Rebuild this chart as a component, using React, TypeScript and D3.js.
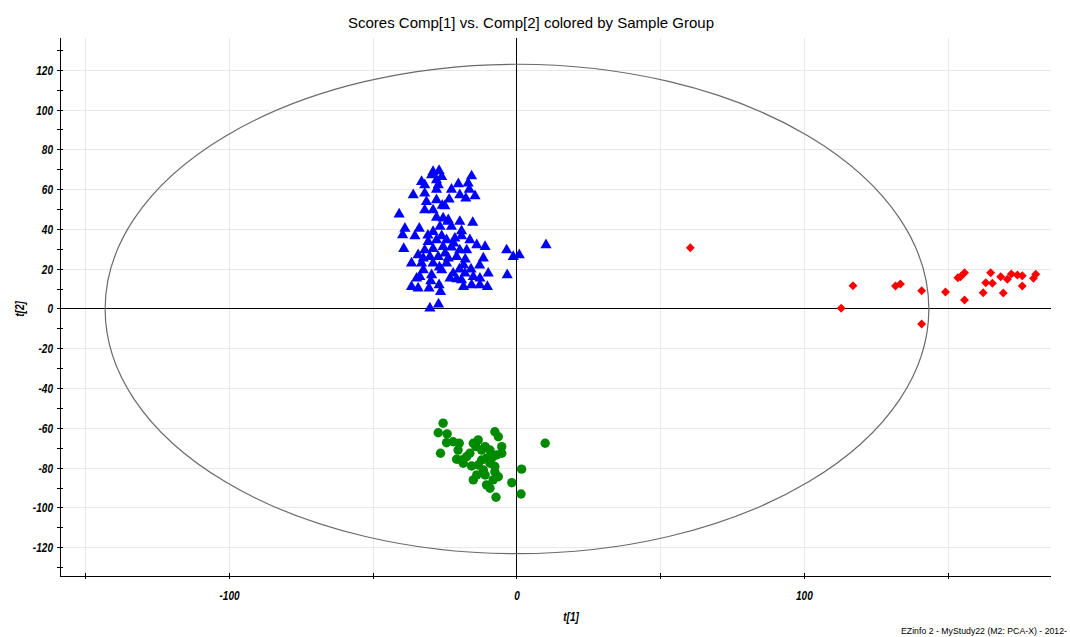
import React from 'react';
import * as d3 from 'd3';

// t[1], t[2] scores
const blueGroup: [number, number][] = [
  [-29.2, 69.0], [-27.1, 69.5], [-29.7, 67.3], [-26.2, 66.5], [-28.0, 64.8], [-33.2, 64.0],
  [-32.1, 62.3], [-27.4, 62.3], [-28.0, 60.1], [-20.4, 62.8], [-15.8, 66.8], [-17.0, 63.2],
  [-16.6, 60.1], [-36.1, 57.3], [-32.1, 58.1], [-22.8, 60.1], [-23.6, 55.1], [-19.9, 57.3],
  [-14.6, 56.8], [-17.8, 55.6], [-31.5, 53.9], [-28.0, 54.8], [-25.1, 51.8], [-32.1, 49.7],
  [-29.2, 49.7], [-41.0, 47.6], [-25.7, 45.6], [-23.9, 44.7], [-19.9, 43.9], [-15.4, 43.4],
  [-39.0, 40.5], [-39.8, 37.2], [-34.0, 40.5], [-35.5, 36.7], [-29.2, 38.8], [-26.8, 41.4],
  [-22.8, 41.4], [-19.3, 39.2], [-19.3, 36.7], [-26.2, 36.7], [-30.9, 33.8], [-28.0, 34.7],
  [-24.5, 34.7], [-21.6, 35.5], [-16.4, 34.7], [-14.0, 32.2], [-11.1, 31.3], [-39.4, 30.3],
  [-32.1, 29.6], [-29.2, 30.3], [-25.7, 31.3], [-22.8, 31.0], [-19.9, 29.6], [-17.5, 29.6],
  [-34.4, 27.1], [-36.7, 23.0], [-32.6, 25.5], [-30.3, 26.3], [-27.4, 26.3], [-23.9, 25.5],
  [-21.0, 26.3], [-33.2, 23.0], [-29.2, 23.0], [-24.5, 23.0], [-11.7, 25.5], [-18.6, 22.1],
  [-32.6, 19.6], [-26.2, 19.6], [-22.2, 17.9], [-18.1, 17.9], [-15.2, 16.2], [-12.9, 15.4],
  [-10.0, 17.9], [-34.9, 15.4], [-33.8, 16.2], [-29.7, 17.1], [-23.3, 15.4], [-19.3, 14.6],
  [-15.8, 12.1], [-36.7, 11.2], [-34.4, 10.4], [-30.6, 10.4], [-27.1, 12.1], [-26.6, 8.7],
  [-18.6, 11.2], [-12.9, 12.1], [-10.3, 11.2], [-3.6, 29.6], [-1.3, 26.3], [0.8, 27.1],
  [-3.4, 17.1], [10.1, 32.2], [-30.3, 0.4], [-27.3, 2.4], [-25.0, 28.0], [-22.0, 33.0],
  [-27.0, 21.0], [-20.0, 20.0], [-31.0, 37.0], [-24.0, 44.0], [-28.0, 46.0], [-18.0, 25.0],
  [-16.0, 20.0], [-30.0, 14.0], [-21.0, 15.0], [-26.0, 52.0], [-13.0, 22.0],
];

const greenGroup: [number, number][] = [
  [-25.7, -57.4], [-27.4, -62.2], [-24.3, -62.8], [-24.5, -67.2], [-26.6, -72.5], [-22.2, -66.7],
  [-20.1, -67.5], [-20.5, -70.9], [-21.0, -75.5], [-19.3, -75.9], [-15.2, -67.5], [-13.5, -65.8],
  [-14.3, -69.2], [-17.5, -74.2], [-16.4, -72.5], [-15.8, -78.9], [-11.1, -69.2], [-9.4, -70.9],
  [-7.7, -61.7], [-6.5, -64.2], [-5.3, -69.2], [-7.1, -73.4], [-10.6, -75.0], [-12.3, -75.9],
  [-13.5, -78.4], [-9.4, -77.5], [-7.7, -79.2], [-11.7, -80.9], [-14.0, -83.4], [-15.2, -85.9],
  [-7.7, -81.8], [-6.5, -84.3], [-10.6, -88.4], [-9.4, -90.1], [-7.3, -94.6], [-1.8, -87.3],
  [1.6, -80.5], [1.4, -93.0], [9.8, -67.5], [-18.7, -77.5], [-5.3, -72.5], [-8.8, -75.0],
  [-12.3, -70.9], [-11.1, -83.4], [-8.3, -85.9],
];

const redGroup: [number, number][] = [
  [60.3, 30.8], [116.9, 11.7], [112.8, 0.4], [131.7, 11.6], [133.4, 12.6], [140.8, 9.2],
  [140.8, -7.5], [149.1, 8.5], [153.4, 15.7], [155.7, 18.2], [154.3, 16.2], [155.7, 4.5],
  [162.2, 8.2], [163.1, 13.2], [164.8, 18.2], [165.4, 12.9], [168.3, 16.2], [169.2, 8.0],
  [170.6, 14.9], [172.0, 17.6], [174.1, 17.1], [175.8, 16.7], [175.8, 11.6], [179.7, 15.4],
  [180.5, 17.5],
];

const yTicks = d3.range(-130, 131, 10);
const yLabels = d3.range(-120, 121, 20);
const xTicks = [-150, -100, -50, 0, 50, 100, 150];
const xLabels = [-100, 0, 100];
const ellipseRadius = { t1: 143.3, t2: 123 };

const W = 1070;
const H = 637;
const plot = { left: 60, right: 1051, top: 38, bottom: 576 };

const labelFont = "'Liberation Sans', Arial, sans-serif";
const narrow = 0.84; // squeeze to look like a narrow face

export default function App() {
  const x = d3.scaleLinear().domain([-159, 185.8]).range([plot.left, plot.right]);
  const y = d3.scaleLinear().domain([-134.2, 136.2]).range([plot.bottom, plot.top]);

  const triangle = d3.symbol().type(d3.symbolTriangle).size(54)()!;
  const diamond = d3.symbol().type(d3.symbolSquare).size(40)()!;

  const label = (key: string, tx: number, ty: number, anchor: string, txt: string | number, rot = 0) => (
    <text key={key} transform={`translate(${tx},${ty}) rotate(${rot}) scale(${narrow},1)`} textAnchor={anchor}
      fontFamily={labelFont} fontWeight="bold" fontStyle="italic" fontSize={12} fill="#000">{txt}</text>
  );

  return (
    <svg width={W} height={H} style={{ position: 'absolute', left: 0, top: 0, background: '#fff' }}>
      <text x={531} y={28} textAnchor="middle" fontFamily="'Liberation Sans', Arial, sans-serif" fontSize={15} fill="#000">
        Scores Comp[1] vs. Comp[2] colored by Sample Group
      </text>

      <g shapeRendering="crispEdges">
        {/* grid */}
        {yLabels.filter(v => v !== 0).map(v => (
          <line key={'gy' + v} x1={plot.left} x2={plot.right} y1={y(v)} y2={y(v)} stroke="#e8e8e8" />
        ))}
        {xTicks.filter(v => v !== 0).map(v => (
          <line key={'gx' + v} x1={x(v)} x2={x(v)} y1={plot.top} y2={plot.bottom} stroke="#e8e8e8" />
        ))}

        {/* zero lines */}
        <line x1={plot.left} x2={plot.right} y1={y(0)} y2={y(0)} stroke="#000" />
        <line x1={x(0)} x2={x(0)} y1={plot.top} y2={plot.bottom} stroke="#000" />
      </g>

      {/* Hotelling ellipse */}
      <ellipse
        cx={x(0)} cy={y(0)}
        rx={x(ellipseRadius.t1) - x(0)} ry={y(0) - y(ellipseRadius.t2)}
        fill="none" stroke="#6a6a6a" strokeWidth={1.2}
      />

      {/* axes */}
      <g shapeRendering="crispEdges">
        <line x1={plot.left} x2={plot.left} y1={plot.top} y2={plot.bottom} stroke="#000" />
        <line x1={plot.left} x2={plot.right} y1={plot.bottom} y2={plot.bottom} stroke="#000" />
        {yTicks.map(v => (
          <line key={'ty' + v} x1={plot.left - 3} x2={plot.left + 3} y1={y(v)} y2={y(v)} stroke="#000" />
        ))}
        {xTicks.map(v => (
          <line key={'tx' + v} x1={x(v)} x2={x(v)} y1={plot.bottom - 3} y2={plot.bottom + 3} stroke="#000" />
        ))}
      </g>
      {yLabels.map(v => label('ly' + v, plot.left - 7, y(v) + 4.5, 'end', v))}
      {xLabels.map(v => label('lx' + v, x(v), 600, 'middle', v))}
      {label('t1', 571, 621, 'middle', 't[1]')}
      {label('t2', 24, y(0), 'middle', 't[2]', -90)}

      {/* points */}
      {greenGroup.map(([a, b], i) => (
        <circle key={'g' + i} cx={x(a)} cy={y(b)} r={4.7} fill="#008a00" />
      ))}
      {blueGroup.map(([a, b], i) => (
        <path key={'b' + i} d={triangle} transform={`translate(${x(a)},${y(b)})`} fill="#0000ff" />
      ))}
      {redGroup.map(([a, b], i) => (
        <path key={'r' + i} d={diamond} transform={`translate(${x(a)},${y(b)}) rotate(45)`} fill="#ff0000" />
      ))}

      <text x={901} y={634} textLength={166} lengthAdjust="spacingAndGlyphs"
        fontFamily="'Liberation Sans', Arial, sans-serif" fontSize={8.5} fill="#000">
        EZinfo 2 - MyStudy22 (M2: PCA-X) - 2012-
      </text>
    </svg>
  );
}
